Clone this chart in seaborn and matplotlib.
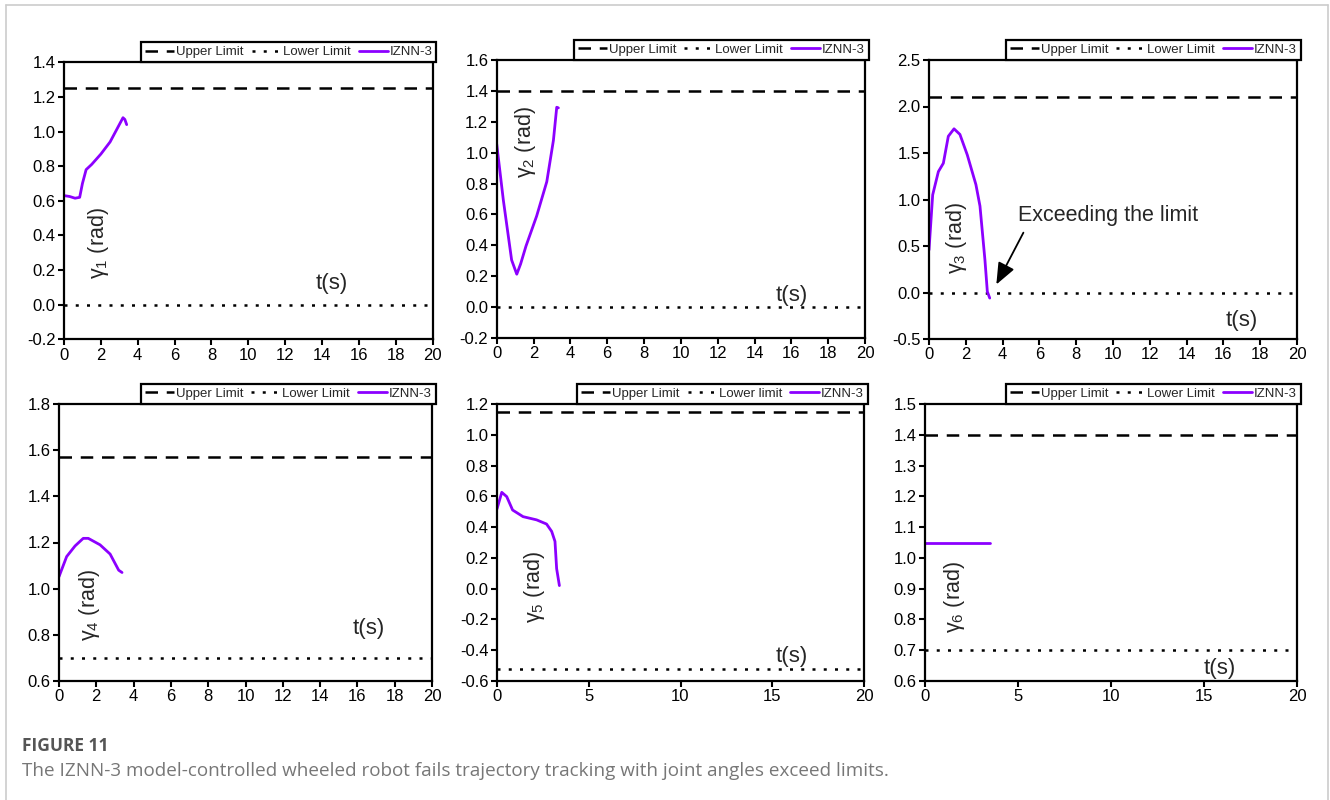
import numpy as np
import pandas as pd
import matplotlib
matplotlib.use("Agg")
import matplotlib.pyplot as plt
from matplotlib.lines import Line2D
import seaborn as sns

# ---------------- data ----------------
t1 = [0, 0.3, 0.6, 0.85, 1.0, 1.2, 1.5, 2.0, 2.5, 3.0, 3.2, 3.3, 3.4]
g1 = [0.63, 0.625, 0.615, 0.62, 0.70, 0.78, 0.81, 0.87, 0.94, 1.04, 1.08, 1.07, 1.04]

t2 = [0, 0.36, 0.81, 1.09, 1.3, 1.59, 2.17, 2.72, 3.08, 3.26, 3.35]
g2 = [1.056, 0.693, 0.305, 0.213, 0.28, 0.395, 0.59, 0.812, 1.08, 1.294, 1.29]

t3 = [0, 0.2, 0.51, 0.78, 1.05, 1.36, 1.68, 2.08, 2.55, 2.77, 3.04, 3.17, 3.3]
g3 = [0.457, 1.05, 1.30, 1.39, 1.68, 1.76, 1.70, 1.48, 1.16, 0.93, 0.35, 0.01, -0.06]

t4 = [0, 0.41, 0.86, 1.3, 1.57, 2.2, 2.74, 3.2, 3.38]
g4 = [1.052, 1.139, 1.185, 1.218, 1.218, 1.19, 1.15, 1.08, 1.07]

t5 = [0, 0.26, 0.53, 0.85, 1.42, 2.16, 2.7, 2.98, 3.16, 3.25, 3.4]
g5 = [0.518, 0.626, 0.598, 0.511, 0.468, 0.447, 0.42, 0.372, 0.307, 0.13, 0.02]

t6 = [0, 3.5]
g6 = [1.05, 1.05]

upper = [1.25, 1.40, 2.10, 1.57, 1.15, 1.40]
lower = [0.0, 0.0, 0.0, 0.70, -0.52, 0.70]
ylims = [(-0.2, 1.4), (-0.2, 1.6), (-0.5, 2.5), (0.6, 1.8), (-0.6, 1.2), (0.6, 1.5)]
ysteps = [0.2, 0.2, 0.5, 0.2, 0.2, 0.1]
xsteps = [2, 2, 2, 2, 5, 5]
legend_labels = [["Upper Limit", "Lower Limit", "IZNN-3"]] * 4 + \
                [["Upper Limit", "Lower limit", "IZNN-3"]] + [["Upper Limit", "Lower Limit", "IZNN-3"]]
ylabels = [r"γ$_1$ (rad)", r"γ$_2$ (rad)", r"γ$_3$ (rad)", r"γ$_4$ (rad)", r"γ$_5$ (rad)", r"γ$_6$ (rad)"]
ylabel_pos = [(1.85, 0.355), (1.54, 1.07), (1.47, 0.583), (1.63, 0.929), (2.07, 0.013), (1.61, 0.874)]
tlabel_pos = [(14.5, 0.124), (16.0, 0.078), (17.0, -0.296), (16.6, 0.829), (16.06, -0.44), (15.86, 0.641)]

series_t = [t1, t2, t3, t4, t5, t6]
series_g = [g1, g2, g3, g4, g5, g6]

# ---------------- style ----------------
sns.set_theme(style="white")
plt.rcParams["font.family"] = ["Liberation Sans", "DejaVu Sans"]
plt.rcParams["mathtext.fontset"] = "custom"
plt.rcParams["mathtext.rm"] = "Liberation Sans"
plt.rcParams["mathtext.it"] = "Liberation Sans:italic"
plt.rcParams["mathtext.default"] = "regular"

W, H = 1330, 800
fig = plt.figure(figsize=(W / 100, H / 100), dpi=100)
fig.patch.set_facecolor("white")

# axes boxes in pixels: left, right, top, bottom
boxes = [(64, 432.7, 62.3, 339.3), (496.7, 865, 60, 338), (929, 1297, 60, 339),
         (59, 432, 404, 681), (497, 864, 404, 681), (925, 1297, 404, 681)]

purple = "#8C00FF"
lw = 1.8

for i in range(6):
    l, r, tp, b = boxes[i]
    ax = fig.add_axes([l / W, 1 - b / H, (r - l) / W, (b - tp) / H])
    df = pd.DataFrame({"t": series_t[i], "g": series_g[i]})
    ax.axhline(upper[i], color="black", lw=lw, dashes=(5, 3.5))
    ax.axhline(lower[i], color="black", lw=lw, dashes=(1.2, 3.3))
    sns.lineplot(data=df, x="t", y="g", ax=ax, color=purple, lw=2.0, sort=False)
    ax.set_xlim(0, 20)
    ax.set_ylim(*ylims[i])
    ax.set_xticks(np.arange(0, 20.1, xsteps[i]))
    ax.set_yticks(np.round(np.arange(ylims[i][0], ylims[i][1] + 1e-9, ysteps[i]), 2))
    ax.yaxis.set_major_formatter(matplotlib.ticker.FormatStrFormatter("%.1f"))
    ax.xaxis.set_major_formatter(matplotlib.ticker.FormatStrFormatter("%d"))
    ax.set_xlabel("")
    ax.set_ylabel("")
    for s in ax.spines.values():
        s.set_color("black")
        s.set_linewidth(1.6)
    ax.tick_params(direction="out", length=4, width=1.5, colors="black",
                   labelsize=12, pad=2, left=True, bottom=True)
    ax.text(*ylabel_pos[i], ylabels[i], rotation=90, ha="center", va="center", fontsize=15.5)
    ax.text(*tlabel_pos[i], "t(s)", ha="center", va="center", fontsize=16)

    handles = [Line2D([], [], color="black", lw=lw, dashes=(5, 3.5)),
               Line2D([], [], color="black", lw=lw, dashes=(1.2, 3.3)),
               Line2D([], [], color=purple, lw=2.0)]
    leg = ax.legend(handles, legend_labels[i], loc="lower right", bbox_to_anchor=(1.01, 1.0),
                    borderaxespad=0.0, ncol=3, frameon=True, fancybox=False, fontsize=9.5,
                    handlelength=2.2, handletextpad=0.15, columnspacing=0.6,
                    borderpad=0.3, framealpha=1)
    leg.get_frame().set_edgecolor("black")
    leg.get_frame().set_linewidth(1.6)

    if i == 2:
        ax.annotate("", xy=(3.59, 0.06), xytext=(5.2, 0.67),
                    arrowprops=dict(arrowstyle="-|>,head_length=1.1,head_width=0.45",
                                    color="black", lw=1.3, mutation_scale=12))
        ax.text(4.84, 0.83, "Exceeding the limit", ha="left", va="center", fontsize=15.5)

# outer frame lines
fig.add_artist(Line2D([6 / W, 6 / W], [0, 1 - 5 / H], color="#cccccc", lw=1.2))
fig.add_artist(Line2D([6 / W, 1328 / W], [1 - 5 / H, 1 - 5 / H], color="#cccccc", lw=1.2))
fig.add_artist(Line2D([1328 / W, 1328 / W], [0, 1 - 5 / H], color="#cccccc", lw=1.2))

fig.text(22 / W, 1 - 746 / H, "FIGURE 11", family="Open Sans", fontweight="bold",
         fontsize=12.5, color="#555555", va="center", ha="left")
fig.text(22 / W, 1 - 771 / H,
         "The IZNN-3 model-controlled wheeled robot fails trajectory tracking with joint angles exceed limits.",
         family="Open Sans", fontsize=13.6, color="#777777", va="center", ha="left")

fig.savefig("out.png", dpi=100)
